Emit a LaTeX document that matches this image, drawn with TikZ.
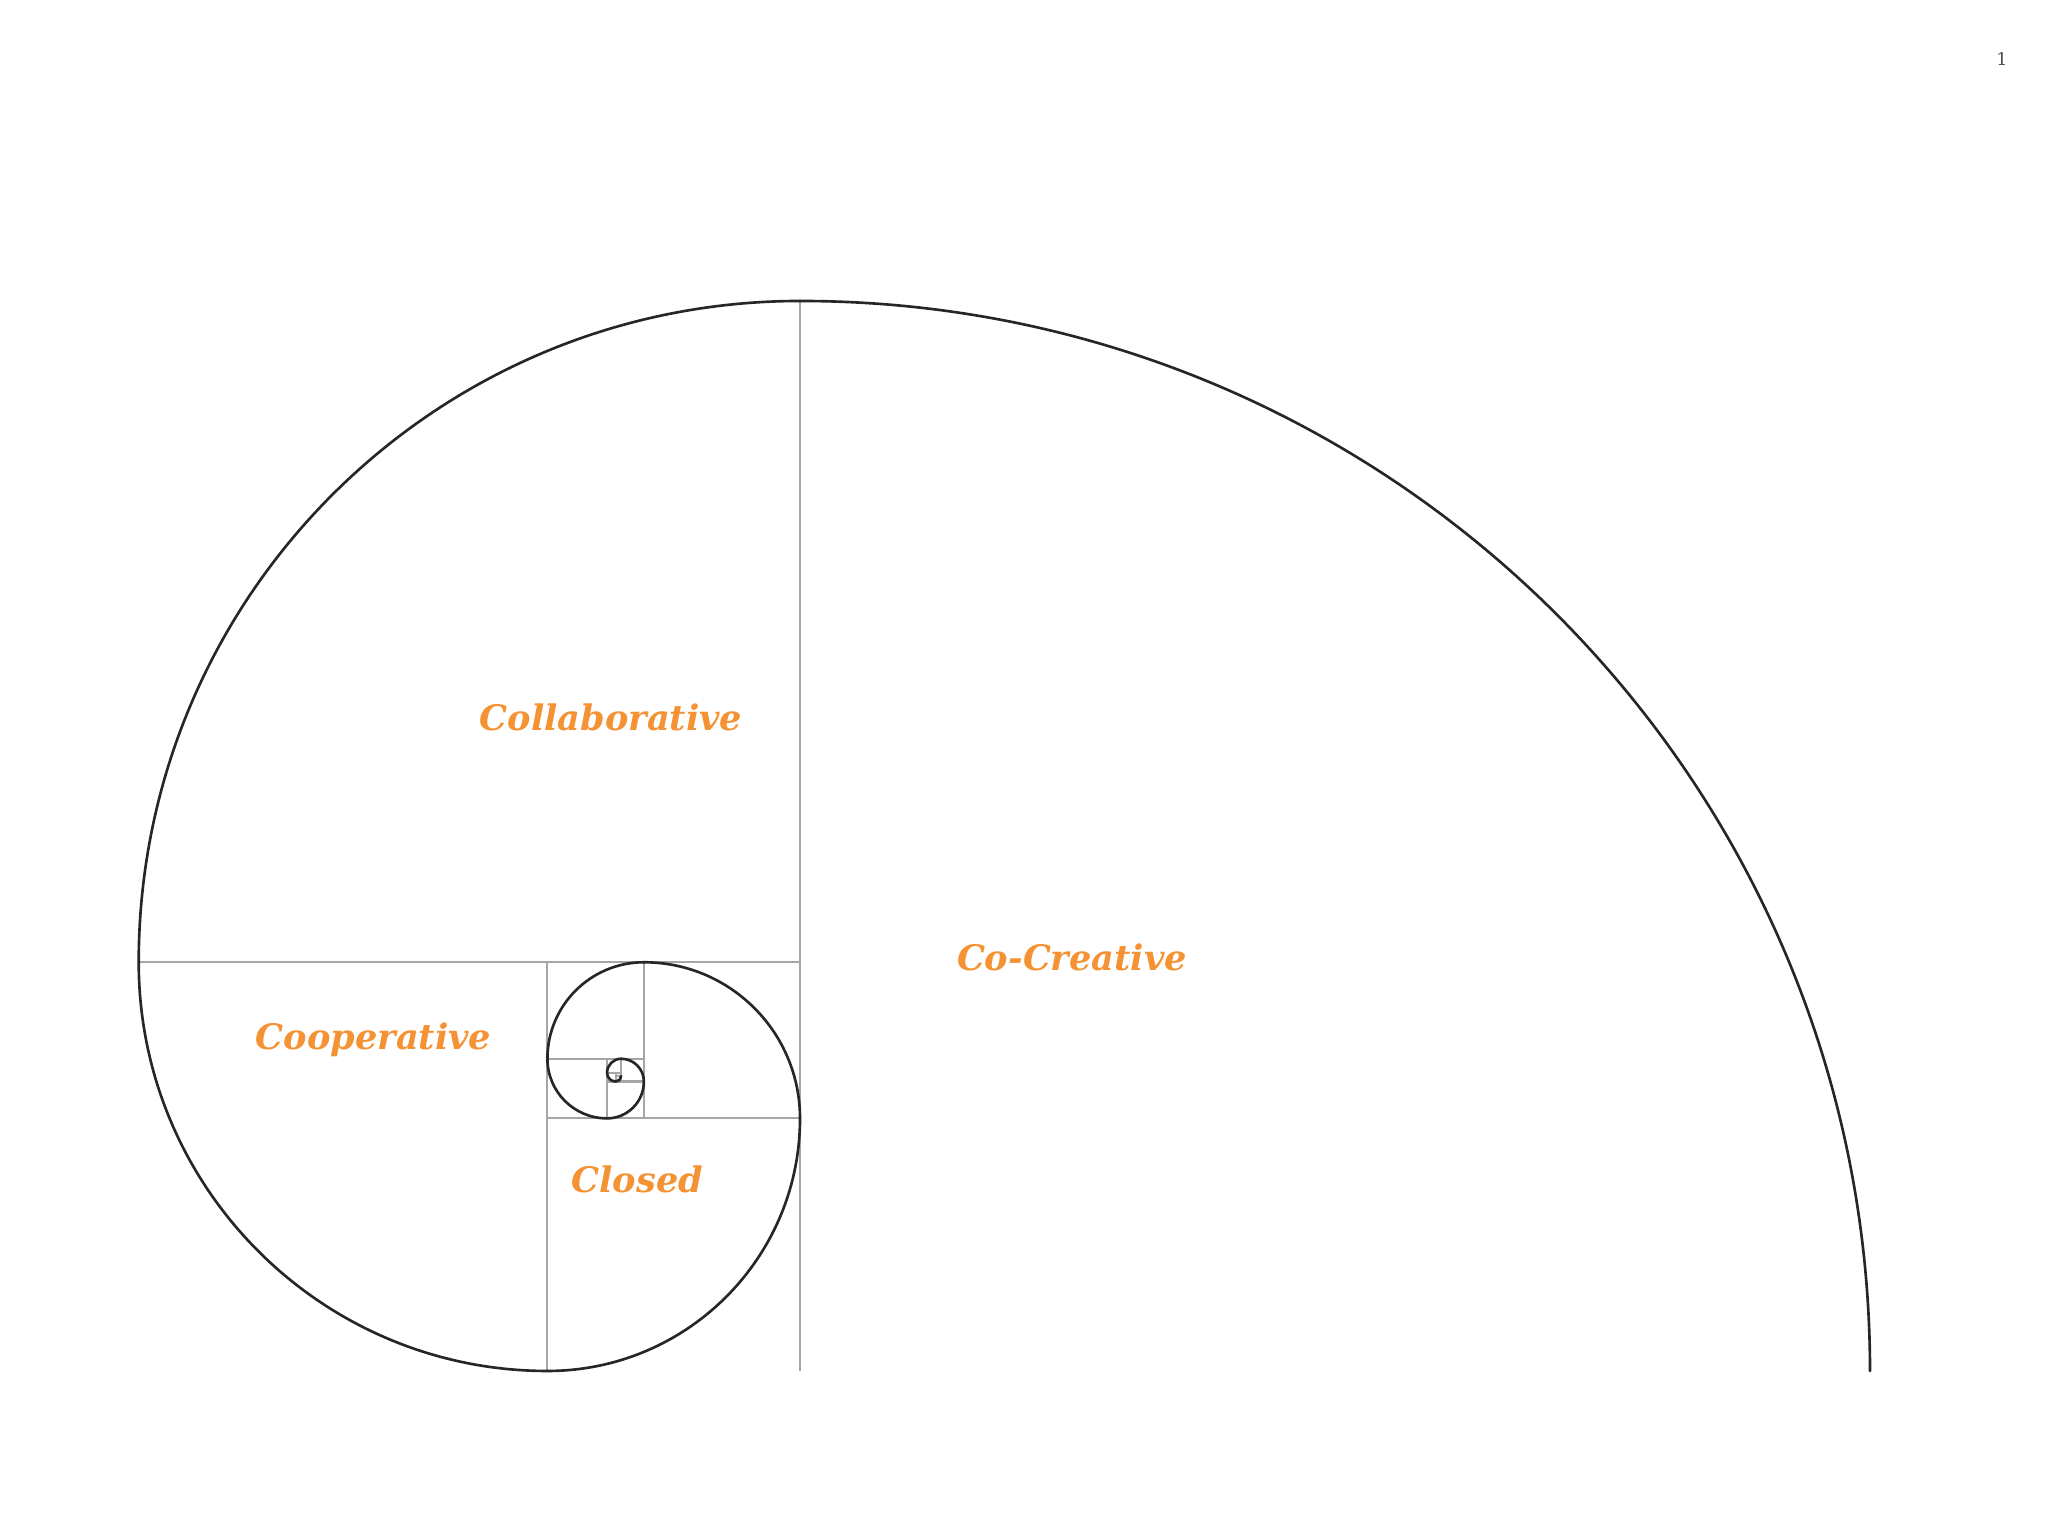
\documentclass[tikz,border=0pt]{standalone}
\usepackage{fontspec}
\setmainfont{DejaVu Serif}
\usetikzlibrary{calc}
\definecolor{labelorange}{RGB}{244,146,52}

\begin{document}
\begin{tikzpicture}% golden spiral
    \tikzstyle{spiral} = [black!85, line width=0.75pt, line cap=round]
    \tikzstyle{grid line} = [black!35, line width=0.6pt]
    \tikzstyle{label} = [text=labelorange, font=\fontsize{10}{12}\selectfont\bfseries\itshape]
    \useasboundingbox (0, 0) rectangle (20.48, 15.36);
    \coordinate (a0) at (18.70, 1.65);
    \foreach \k in {0,...,11} {
        \pgfmathsetmacro{\r}{10.7/1.618034^\k}
        \pgfmathsetmacro{\sa}{\k*90}
        \pgfmathsetmacro{\ea}{\k*90+90}
        \pgfmathtruncatemacro{\next}{\k+1}
        \coordinate (c\k) at ($(a\k) - (\sa:\r)$);
        \coordinate (a\next) at ($(c\k) + (\ea:\r)$);
        \draw[grid line] (c\k) -- (a\next);
        \draw[spiral] (a\k) arc[start angle=\sa, end angle=\ea, radius=\r];
    }
    \node[label] (co-creative) at (10.72, 5.79) {Co-Creative};
    \node[label] (collaborative) at (6.11, 8.19) {Collaborative};
    \node[label] (cooperative) at (3.735, 4.964) {Cooperative};
    \node[label] (closed) at (6.374, 3.566) {Closed};
    \node[black!70, font=\fontsize{5}{6}\selectfont] (page) at (20.02, 14.77) {1};
\end{tikzpicture}
\end{document}
